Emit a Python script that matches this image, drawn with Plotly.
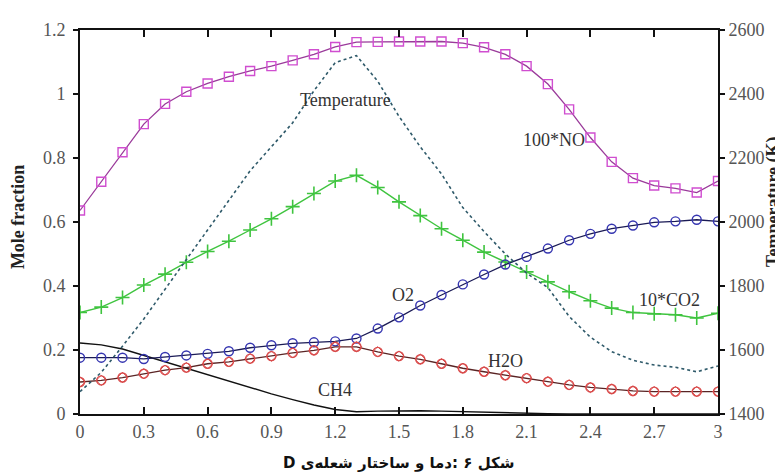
import plotly.graph_objects as go

# ---- data ----
x_pos = [0.0, 0.1, 0.2, 0.3, 0.4, 0.5, 0.6, 0.7, 0.8, 0.9, 1.0,
         1.1, 1.2, 1.3, 1.4, 1.5, 1.6, 1.7, 1.8, 1.9, 2.0,
         2.1, 2.2, 2.3, 2.4, 2.5, 2.6, 2.7, 2.8, 2.9, 3.0]

no_x100 = [0.636, 0.726, 0.818, 0.906, 0.969, 1.007, 1.033, 1.054, 1.072, 1.087, 1.105,
           1.124, 1.147, 1.162, 1.163, 1.164, 1.164, 1.164, 1.159, 1.146, 1.124,
           1.087, 1.031, 0.952, 0.864, 0.788, 0.737, 0.714, 0.705, 0.692, 0.728]

co2_x10 = [0.317, 0.334, 0.364, 0.403, 0.437, 0.474, 0.508, 0.540, 0.575, 0.610, 0.648,
           0.689, 0.728, 0.746, 0.708, 0.663, 0.620, 0.579, 0.543, 0.506, 0.475,
           0.444, 0.413, 0.382, 0.354, 0.331, 0.317, 0.313, 0.310, 0.300, 0.315]

o2 = [0.176, 0.176, 0.176, 0.172, 0.178, 0.183, 0.188, 0.196, 0.207, 0.215, 0.221,
      0.224, 0.227, 0.236, 0.267, 0.302, 0.339, 0.372, 0.405, 0.436, 0.467,
      0.491, 0.517, 0.543, 0.563, 0.579, 0.589, 0.599, 0.602, 0.607, 0.602]

h2o = [0.100, 0.105, 0.114, 0.126, 0.137, 0.145, 0.157, 0.163, 0.173, 0.181, 0.191,
       0.199, 0.210, 0.210, 0.194, 0.181, 0.171, 0.157, 0.143, 0.132, 0.121,
       0.112, 0.101, 0.091, 0.083, 0.078, 0.072, 0.070, 0.070, 0.070, 0.070]

ch4 = [0.222, 0.216, 0.203, 0.183, 0.162, 0.142, 0.122, 0.102, 0.083, 0.063, 0.045,
       0.028, 0.014, 0.007, 0.009, 0.010, 0.010, 0.009, 0.007, 0.005, 0.003,
       0.002, 0.001, 0.0005, 0.0, 0.0, 0.0, 0.0, 0.0, 0.0, 0.0]

temperature = [1470, 1530, 1612, 1697, 1790, 1882, 1975, 2067, 2160, 2235, 2310,
               2410, 2498, 2520, 2440, 2330, 2235, 2150, 2045, 1970, 1900,
               1840, 1795, 1705, 1640, 1595, 1568, 1553, 1546, 1532, 1550]

x_ticks = [0, 0.3, 0.6, 0.9, 1.2, 1.5, 1.8, 2.1, 2.4, 2.7, 3]
x_tick_text = ["0", "0.3", "0.6", "0.9", "1.2", "1.5", "1.8", "2.1", "2.4", "2.7", "3"]
y_ticks = [0, 0.2, 0.4, 0.6, 0.8, 1, 1.2]
y_tick_text = ["0", "0.2", "0.4", "0.6", "0.8", "1", "1.2"]
t_ticks = [1400, 1600, 1800, 2000, 2200, 2400, 2600]

labels = ["Temperature", "100*NO", "10*CO2", "O2", "H2O", "CH4"]
label_x = [1.25, 2.23, 2.77, 1.52, 2.0, 1.2]
label_y = [0.98, 0.857, 0.356, 0.372, 0.165, 0.075]

# caption in logical (right-to-left) order, forced into an RTL embedding
caption = "\u202bشکل ۶ :دما و ساختار شعله\u200cی D\u202c"

SERIF = "Liberation Serif, Times New Roman, serif"

fig = go.Figure()

fig.add_trace(go.Scatter(
    x=x_pos, y=temperature, yaxis="y2", mode="lines",
    line=dict(color="#2f5a6a", width=1.6, dash="dot"), showlegend=False))

fig.add_trace(go.Scatter(
    x=x_pos, y=ch4, mode="lines",
    line=dict(color="#111111", width=1.4), showlegend=False))

fig.add_trace(go.Scatter(
    x=x_pos, y=no_x100, mode="lines+markers",
    line=dict(color="#9a3a9a", width=1.3),
    marker=dict(symbol="square-open", size=9, color="#d04ed0",
                line=dict(width=1.4, color="#d04ed0")),
    showlegend=False))

fig.add_trace(go.Scatter(
    x=x_pos, y=co2_x10, mode="lines+markers",
    line=dict(color="#3fc43f", width=1.4),
    marker=dict(symbol="cross-thin-open", size=10, color="#3fc43f",
                line=dict(width=1.6, color="#3fc43f")),
    showlegend=False))

fig.add_trace(go.Scatter(
    x=x_pos, y=o2, mode="lines+markers",
    line=dict(color="#1a1a55", width=1.3),
    marker=dict(symbol="circle-open", size=9, color="#3535b0",
                line=dict(width=1.4, color="#3535b0")),
    showlegend=False))

fig.add_trace(go.Scatter(
    x=x_pos, y=h2o, mode="lines+markers",
    line=dict(color="#5a2424", width=1.3),
    marker=dict(symbol="circle-open", size=9, color="#d94a4a",
                line=dict(width=1.4, color="#d94a4a")),
    showlegend=False))

fig.add_trace(go.Scatter(
    x=x_pos, y=h2o, mode="markers",
    marker=dict(symbol="diamond-open", size=8, color="#d94a4a",
                line=dict(width=1.0, color="#d94a4a")),
    showlegend=False))

annotations = []
for t, xx, yy in zip(labels, label_x, label_y):
    annotations.append(dict(x=xx, y=yy, xref="x", yref="y", text=t, showarrow=False,
                            font=dict(family=SERIF, size=18, color="#333333"),
                            bgcolor="rgba(0,0,0,0)"))

annotations.append(dict(x=-0.097, y=0.513, xref="paper", yref="paper", text="<b>Mole fraction</b>",
                        textangle=-90, showarrow=False, xanchor="center", yanchor="middle",
                        font=dict(family=SERIF, size=18, color="#222222")))
annotations.append(dict(x=1.087, y=0.551, xref="paper", yref="paper", text="<b>Temperature (K)</b>",
                        textangle=-90, showarrow=False, xanchor="center", yanchor="middle",
                        font=dict(family=SERIF, size=18, color="#222222")))
annotations.append(dict(x=0.5, y=-0.128, xref="paper", yref="paper", text="<b>" + caption + "</b>",
                        showarrow=False, xanchor="center", yanchor="middle",
                        font=dict(family="DejaVu Sans, Noto Sans, sans-serif", size=15, color="#111111")))

fig.update_layout(
    width=783, height=475,
    margin=dict(l=72, r=73, t=16, b=69),
    paper_bgcolor="white", plot_bgcolor="white",
    xaxis=dict(range=[0, 3], tickvals=x_ticks, ticktext=x_tick_text,
               showline=True, linecolor="#111111", linewidth=2, mirror="ticks",
               ticks="inside", ticklen=7, tickwidth=1.5, tickcolor="#111111",
               showgrid=False, zeroline=False,
               tickfont=dict(family=SERIF, size=18, color="#555555")),
    yaxis=dict(range=[0, 1.2], tickvals=y_ticks, ticktext=y_tick_text,
               showline=True, linecolor="#111111", linewidth=2,
               ticks="outside", ticklen=5, tickwidth=1.5, tickcolor="#111111",
               showgrid=False, zeroline=False, ticklabelstandoff=4,
               tickfont=dict(family=SERIF, size=18, color="#555555")),
    yaxis2=dict(range=[1400, 2600], tickvals=t_ticks, overlaying="y", side="right",
                showline=True, linecolor="#111111", linewidth=2,
                ticks="outside", ticklen=5, tickwidth=1.5, tickcolor="#111111",
                showgrid=False, zeroline=False,
                tickfont=dict(family=SERIF, size=18, color="#555555")),
    annotations=annotations,
)

fig.write_html("out.html")
